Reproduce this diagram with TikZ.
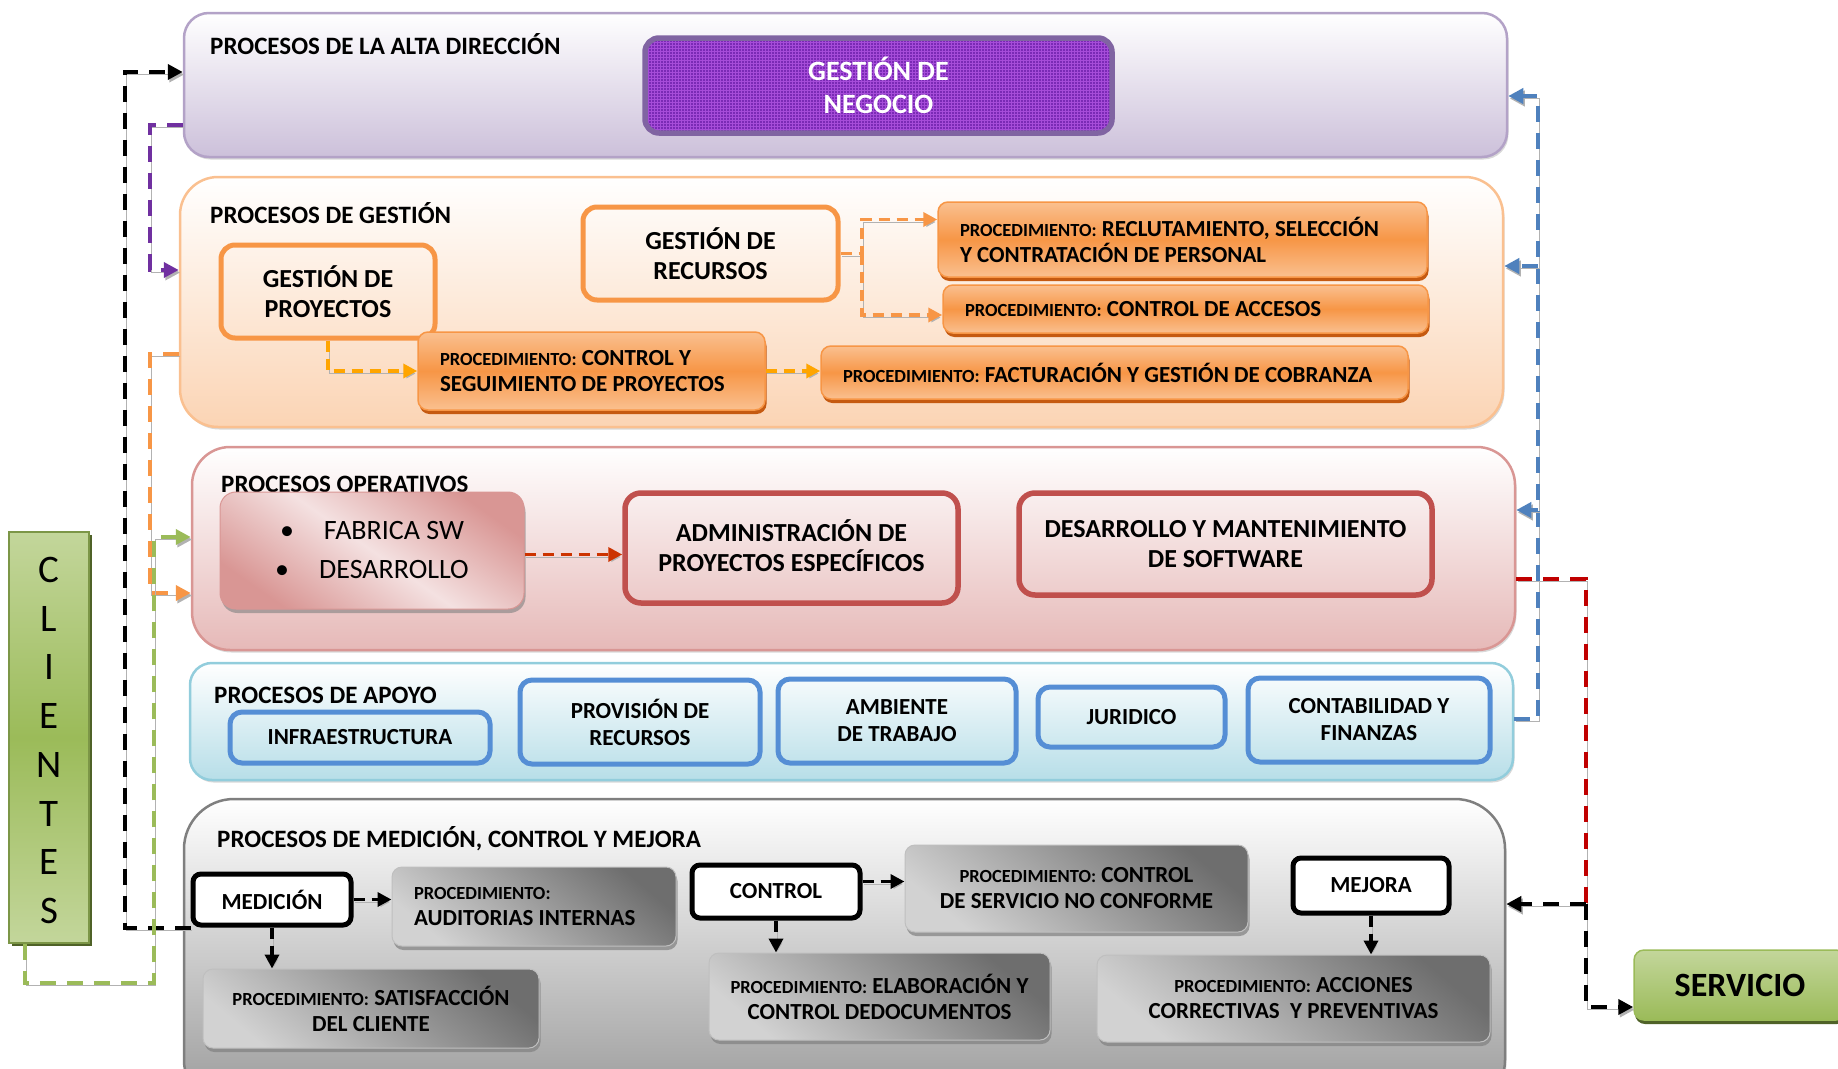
\documentclass[tikz,border=0pt]{standalone}
\usepackage{fontspec}
\setmainfont{Carlito}
\usetikzlibrary{arrows.meta,shadows,patterns}

\definecolor{cband1}{HTML}{B3A2C7}\definecolor{cband1f}{HTML}{CCC0DA}
\definecolor{cband2}{HTML}{FAC090}\definecolor{cband2f}{HTML}{FBD4B4}
\definecolor{cband3}{HTML}{D99694}\definecolor{cband3f}{HTML}{E6B9B8}
\definecolor{cband4}{HTML}{92CDDC}\definecolor{cband4f}{HTML}{B7DEE8}
\definecolor{cband6}{HTML}{7F7F7F}\definecolor{cband6f}{HTML}{999999}
\definecolor{cnegocio}{HTML}{7A2AB5}\definecolor{cnegociog}{HTML}{A64CD9}\definecolor{cnegociob}{HTML}{8064A2}
\definecolor{corange}{HTML}{F79646}\definecolor{cprocl}{HTML}{FAC090}\definecolor{cprocd}{HTML}{C55A11}
\definecolor{cred}{HTML}{C0504D}\definecolor{cblue}{HTML}{558ED5}
\definecolor{cpinkd}{HTML}{D99694}\definecolor{cpinkl}{HTML}{F4E1E1}
\definecolor{cgreyd}{HTML}{6E6E6E}\definecolor{cgreyl}{HTML}{D2D2D2}
\definecolor{cgreenl}{HTML}{C3D69B}\definecolor{cgreen}{HTML}{9BBB59}\definecolor{cgreend}{HTML}{4F6228}
\definecolor{cpurple}{HTML}{7030A0}\definecolor{camber}{HTML}{FFA500}
\definecolor{credor}{HTML}{CC3300}\definecolor{credline}{HTML}{C00000}\definecolor{cblueline}{HTML}{4F81BD}

\newcommand{\procl}{{\fontsize{18.5}{26}\selectfont PROCEDIMIENTO:}}

\tikzset{
  band/.style={rounded corners=#1, line width=2.5pt, drop shadow={shadow xshift=1.5pt,shadow yshift=-2.5pt,opacity=.3}},
  bandtitle/.style={anchor=base west, inner sep=0pt, font=\bfseries\fontsize{25}{30}\selectfont},
  obox/.style={draw=corange, line width=5pt, rounded corners=14pt, align=center, inner sep=0pt, font=\bfseries\fontsize{26}{30}\selectfont},
  pbox/.style={draw=corange, line width=1.5pt, rounded corners=10pt, top color=cprocl, bottom color=cprocl, middle color=corange,
    drop shadow={shadow xshift=1.5pt,shadow yshift=-4pt,fill=cprocd,opacity=1}, align=flush left, inner xsep=22pt, inner ysep=0pt,
    font=\bfseries\fontsize{23}{26}\selectfont},
  rbox/.style={draw=cred, line width=5.5pt, rounded corners=16pt, align=center, inner sep=0pt, font=\bfseries\fontsize{26}{30}\selectfont},
  bbox/.style={draw=cblue, line width=5pt, rounded corners=12pt, align=center, inner sep=0pt, font=\bfseries\fontsize{23}{27}\selectfont},
  kbox/.style={draw=black, line width=5pt, rounded corners=8pt, fill=white, align=center, inner sep=0pt, font=\bfseries\fontsize{23}{27}\selectfont},
  gbox/.style={draw=gray!50, line width=1pt, rounded corners=10pt, top color=cgreyd, bottom color=cgreyl, shading angle=-40,
    drop shadow={shadow xshift=1.5pt,shadow yshift=-4pt,fill=gray,opacity=.7}, align=center, inner sep=0pt,
    font=\bfseries\fontsize{23}{26}\selectfont},
  lshadow/.style={preaction={draw=black!30, transform canvas={shift={(1.5pt,-2.5pt)}}}},
  conn/.style={line width=4pt, dash pattern=on 16pt off 11pt, -{Triangle[length=15pt,width=15pt]}, lshadow},
  sconn/.style={line width=3.5pt, dash pattern=on 11pt off 7pt, -{Triangle[length=14pt,width=14pt]}, lshadow},
}

\begin{document}
\begin{tikzpicture}[x=1pt,y=-1pt]
\clip (0,0) rectangle (1838,1068);

%% bands
\node[band=25pt, draw=cband1, top color=white, bottom color=cband1f, minimum width=1323pt, minimum height=144pt] (band1) at (845.5,85) {};
\node[band=38pt, draw=cband2, top color=white, bottom color=cband2f, minimum width=1323pt, minimum height=250pt] (band2) at (841.5,302) {};
\node[band=38pt, draw=cband3, top color=white, bottom color=cband3f, minimum width=1323pt, minimum height=203pt] (band3) at (853.5,548.5) {};
\node[band=22pt, draw=cband4, top color=white, bottom color=cband4f, minimum width=1323pt, minimum height=117pt] (band4) at (851.5,721.5) {};
\node[band=50pt, draw=cband6, top color=white, bottom color=cband6f, minimum width=1321pt, minimum height=311pt] (band6) at (844.5,954.5) {};

\node[bandtitle] (t1) at (210,54) {PROCESOS DE LA ALTA DIRECCIÓN};
\node[bandtitle] (t2) at (210,223) {PROCESOS DE GESTIÓN};
\node[bandtitle] (t3) at (221,492) {PROCESOS OPERATIVOS};
\node[bandtitle] (t4) at (214,703) {PROCESOS DE APOYO};
\node[bandtitle] (t6) at (217,847) {PROCESOS DE MEDICIÓN, CONTROL Y MEJORA};

%% alta direccion
\node[draw=cnegociob, line width=5.5pt, rounded corners=14pt, preaction={fill=cnegocio}, pattern=grid, pattern color=cnegociog,
  minimum width=467pt, minimum height=95pt, align=center, inner sep=0pt, text=white, font=\bfseries\fontsize{28}{33}\selectfont]
  (negocio) at (878.5,85.5) {\raisebox{-3pt}{GESTIÓN DE}\\\raisebox{-3pt}{NEGOCIO}};

%% gestion
\node[obox, minimum width=214pt, minimum height=93pt] (gproy) at (328,291.5) {GESTIÓN DE\\PROYECTOS};
\node[obox, minimum width=255pt, minimum height=93pt] (grec) at (710.5,253.5) {GESTIÓN DE\\RECURSOS};
\node[pbox, text width=303pt, minimum height=78pt] (pcontrol) at (591.5,371) {\procl{} CONTROL Y\\SEGUIMIENTO DE PROYECTOS};
\node[pbox, text width=445pt, minimum height=75pt] (precl) at (1182.5,239.5) {\procl{} RECLUTAMIENTO, SELECCIÓN\\Y CONTRATACIÓN DE PERSONAL};
\node[pbox, text width=441pt, minimum height=48pt] (pacc) at (1185.5,309) {\procl{} CONTROL DE ACCESOS};
\node[pbox, text width=543pt, minimum height=53pt] (pfact) at (1114.5,372.5) {\procl{} FACTURACIÓN Y GESTIÓN DE COBRANZA};

%% operativos
\node[draw=cpinkd, line width=1pt, rounded corners=16pt, top color=cpinkd, bottom color=cpinkd, middle color=cpinkl, shading angle=-35,
  drop shadow={shadow xshift=1.5pt,shadow yshift=-4pt,fill=gray,opacity=.6}, minimum width=304pt, minimum height=117pt,
  align=center, inner sep=0pt, font=\fontsize{28}{39}\selectfont]
  (fabrica) at (372,550.5) {\textbullet\hspace{30pt}FABRICA SW\\\textbullet\hspace{30pt}DESARROLLO};
\node[rbox, minimum width=333pt, minimum height=110pt] (admin) at (791.5,548) {\raisebox{5pt}{ADMINISTRACIÓN DE}\\\raisebox{5pt}{PROYECTOS ESPECÍFICOS}};
\node[rbox, minimum width=413pt, minimum height=102pt] (desmant) at (1225.5,544) {DESARROLLO Y MANTENIMIENTO\\DE SOFTWARE};

%% apoyo
\node[bbox, minimum width=260pt, minimum height=51pt] (infra) at (360,737.5) {INFRAESTRUCTURA};
\node[bbox, minimum width=240pt, minimum height=84pt] (provis) at (640,722) {PROVISIÓN DE\\RECURSOS};
\node[bbox, minimum width=238pt, minimum height=84pt] (ambiente) at (897,721) {AMBIENTE\\DE TRABAJO};
\node[bbox, minimum width=187pt, minimum height=60pt] (juridico) at (1131.5,717) {JURIDICO};
\node[bbox, minimum width=242pt, minimum height=84pt] (contab) at (1369,720) {CONTABILIDAD Y\\FINANZAS};

%% medicion, control y mejora
\node[kbox, minimum width=158pt, minimum height=51pt] (medicion) at (272,899.5) {MEDICIÓN};
\node[gbox, align=flush left, text width=240pt, inner xsep=22pt, minimum height=79pt] (audit) at (534,906.5) {\procl\\AUDITORIAS INTERNAS};
\node[gbox, minimum width=336pt, minimum height=79pt] (satisf) at (371,1008.5) {\procl{} SATISFACCIÓN\\DEL CLIENTE};
\node[kbox, minimum width=168pt, minimum height=53pt] (control) at (776,891.5) {CONTROL};
\node[gbox, minimum width=343pt, minimum height=87pt] (ctrlserv) at (1076.5,888.5) {\procl{} CONTROL\\DE SERVICIO NO CONFORME};
\node[gbox, minimum width=341pt, minimum height=87pt] (elab) at (879.5,996.5) {\procl{} ELABORACIÓN Y\\CONTROL DEDOCUMENTOS};
\node[kbox, minimum width=156pt, minimum height=55pt] (mejora) at (1371,885.5) {MEJORA};
\node[gbox, minimum width=393pt, minimum height=87pt] (acciones) at (1293.5,998.5) {\procl{} ACCIONES\\CORRECTIVAS\ \ Y PREVENTIVAS};

%% clientes y servicio
\node[draw=cgreen!80!black, line width=1.5pt, top color=cgreenl, bottom color=cgreenl, middle color=cgreen,
  drop shadow={shadow xshift=3pt,shadow yshift=-3pt,fill=cgreend,opacity=1}, minimum width=80pt, minimum height=411pt] (clientes) at (49,737.5) {};
\foreach \ch [count=\i from 0] in {C,L,I,E,N,T,E,S}
  \node[anchor=base, inner sep=0pt, font=\fontsize{39}{39}\selectfont] (cl\i) at (49,582.5+48.7*\i) {\ch};
\node[draw=cgreen, line width=1.5pt, rounded corners=10pt, top color=cgreenl, bottom color=cgreen,
  drop shadow={shadow xshift=1pt,shadow yshift=-4pt,fill=cgreend,opacity=1}, minimum width=212pt, minimum height=70pt,
  inner sep=0pt, font=\bfseries\fontsize{34}{34}\selectfont] (servicio) at (1740,985) {SERVICIO};

%% lines
\coordinate (kb) at (125,72);
\draw[conn, draw=black] (medicion.south west) -| (kb) -- (kb -| band1.west);
\coordinate (pb1) at (150,125); \coordinate (pb2) at (150,270);
\draw[conn, draw=cpurple] (band1.west |- pb1) -- (pb1) -- (pb2) -- (pb2 -| band2.west);
\coordinate (ob1) at (150,354); \coordinate (ob2) at (150,593);
\draw[conn, draw=corange] (band2.west |- ob1) -- (ob1) -- (ob2) -- (ob2 -| band3.west);
\coordinate (gb1) at (25,983); \coordinate (gb2) at (154,983); \coordinate (gb3) at (154,537);
\draw[conn, draw=cgreen] (clientes.south -| gb1) -- (gb1) -- (gb2) -- (gb3) -- (gb3 -| band3.west);

\coordinate (bb0) at (1538,719); \coordinate (bb1) at (1538,96); \coordinate (bb2) at (1538,266); \coordinate (bb3) at (1538,510);
\draw[conn, draw=cblueline] (band4.east |- bb0) -- (bb0) -- (bb1) -- (bb1 -| band1.east);
\draw[conn, draw=cblueline] (bb2) -- (bb2 -| band2.east);
\draw[conn, draw=cblueline] (bb3) -- (bb3 -| band3.east);

\coordinate (rb0) at (1586,579); \coordinate (junc) at (1586,904); \coordinate (sb) at (1586,1007);
\draw[line width=4pt, dash pattern=on 16pt off 11pt, draw=credline, lshadow] (band3.east |- rb0) -- (rb0) -- (junc);
\draw[conn, draw=black] (junc) -- (junc -| band6.east);
\draw[conn, draw=black] (junc) -- (sb) -- (sb -| servicio.west);

\draw[sconn, draw=camber] (gproy.south) |- (pcontrol.west);
\draw[sconn, draw=camber] (pcontrol.east) -- (pcontrol.east -| pfact.west);
\coordinate (rc) at (862,253);
\draw[sconn, draw=corange] (grec.east) -- (grec.east -| rc) |- ([yshift=20pt]precl.west);
\draw[sconn, draw=corange] (grec.east -| rc) |- ([yshift=-6pt]pacc.west);
\draw[sconn, draw=credor] ([yshift=-4pt]fabrica.east) -- ([yshift=-4pt]fabrica.east -| admin.west);

\draw[sconn, draw=black] (medicion.east) -- (medicion.east -| audit.west);
\draw[sconn, draw=black] (medicion.south) -- (medicion.south |- satisf.north);
\draw[sconn, draw=black] ([yshift=10pt]control.east) -- ([yshift=10pt]control.east -| ctrlserv.west);
\draw[sconn, draw=black] (control.south) -- (control.south |- elab.north);
\draw[sconn, draw=black] (mejora.south) -- (mejora.south |- acciones.north);
\end{tikzpicture}
\end{document}
